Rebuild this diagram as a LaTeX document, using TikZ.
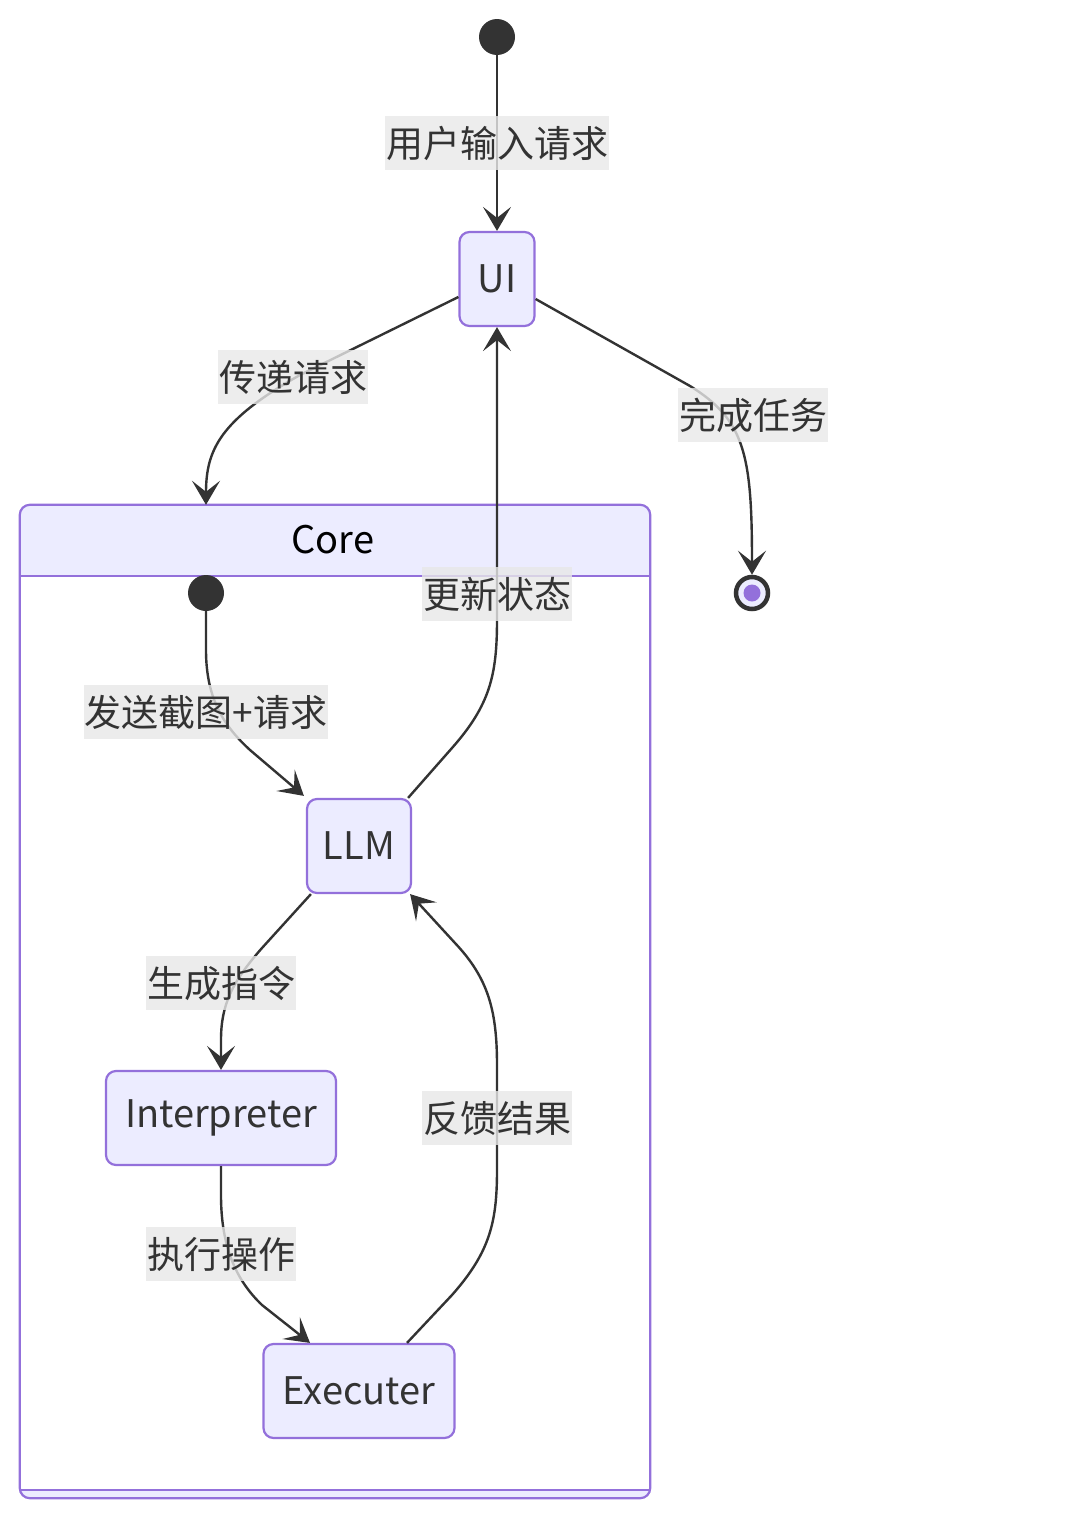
\documentclass[tikz,border=0pt]{standalone}
\usepackage{fontspec}
\setmainfont{Noto Sans CJK SC}
\usetikzlibrary{arrows.meta,positioning,calc}
\definecolor{ink}{RGB}{51,51,51}
\definecolor{lilac}{RGB}{147,112,219}
\definecolor{statebg}{RGB}{236,236,255}
\definecolor{lblbg}{RGB}{232,232,232}

\begin{document}
\begin{tikzpicture}[x=1pt,y=-1pt,
  font=\fontsize{38}{44}\selectfont,
  st/.style={draw=lilac,fill=statebg,rounded corners=10pt,line width=2.2pt,
             minimum height=94pt,inner xsep=17pt,text=ink},
  dot/.style={circle,fill=ink,minimum size=36pt,inner sep=0pt},
  lbl/.style={font=\fontsize{37}{44}\selectfont,fill=lblbg,fill opacity=0.8,
              text opacity=1,text=ink,inner xsep=1pt,inner ysep=0pt,minimum height=54pt},
  tr/.style={draw=ink,line width=2.4pt,
             -{Stealth[length=24pt,width=28pt,inset=11pt]}}]

\useasboundingbox (0,0) rectangle (1080,1539);

% composite state
\node[minimum width=630pt,minimum height=993pt,inner sep=0pt] (core) at (335,1001.5) {};
\coordinate (hl) at (20,576);
\coordinate (hr) at (650,576);
\coordinate (bl) at (20,1490);
\coordinate (br) at (650,1490);
\begin{scope}
  \clip[rounded corners=10pt] (core.north west) rectangle (core.south east);
  \fill[white] (core.north west) rectangle (core.south east);
  \fill[statebg] (core.north west) rectangle (hr);
  \fill[statebg] (bl) rectangle (core.south east);
\end{scope}
\draw[lilac,line width=2.2pt,rounded corners=10pt] (core.north west) rectangle (core.south east);
\draw[lilac,line width=2.2pt] (hl) -- (hr) (bl) -- (br);
\node[text=black] (coret) at (333,540) {Core};

% states
\node[dot] (s0) at (497,37) {};
\node[st,minimum width=75pt,inner xsep=0pt] (ui) at (497,279) {UI};
\node[circle,draw=ink,line width=4.5pt,fill=statebg,minimum size=32pt,inner sep=0pt] (fin) at (752,593) {};
\node[circle,fill=lilac,minimum size=17pt,inner sep=0pt] (finin) at (fin) {};
\node[dot] (s1) at (206,593) {};
\node[st,minimum width=104pt,inner xsep=0pt] (llm) at (359,846) {LLM};
\node[st,minimum width=230pt,inner xsep=0pt] (intp) at (221,1118) {Interpreter};
\node[st,minimum width=191pt,inner xsep=0pt] (exe) at (359,1391) {Executer};

% transitions
\draw[tr] (s0) -- (ui);
\draw[tr] ($(ui.west)+(0,18)$) -- (300,375) .. controls (220,420) and (206,450) .. (core.north -| s1);
\draw[tr] ($(ui.east)+(0,20)$) -- (690,386) .. controls (745,420) and (752,455) .. (fin.north);
\draw[tr] (s1) -- (206,650) .. controls (206,700) and (225,727) .. (250,750) -- ($(llm.north west)+(-2,-2)$);
\draw[tr] ($(llm.north east)+(-4,0)$) -- (452,748) .. controls (490,705) and (497,675) .. (497,620) -- (ui.south);
\draw[tr] ($(llm.south west)+(5,0)$) -- (262,948) .. controls (232,982) and (221,1005) .. (221,1040) -- (intp.north);
\draw[tr] (intp.south) -- (221,1195) .. controls (221,1250) and (238,1282) .. (262,1305) -- ($(exe.north)+(-49,0)$);
\draw[tr] ($(exe.north)+(48,0)$) -- (452,1295) .. controls (490,1252) and (497,1222) .. (497,1170)
  -- (497,1065) .. controls (497,1010) and (488,978) .. (455,943) -- ($(llm.south east)+(-2,0)$);

% labels
\node[lbl] (l0) at (497,143) {用户输入请求};
\node[lbl] (l1) at (293,377) {传递请求};
\node[lbl] (l2) at (753,415) {完成任务};
\node[lbl] (l3) at (206,712) {发送截图+请求};
\node[lbl] (l4) at (497,594) {更新状态};
\node[lbl] (l5) at (221,983) {生成指令};
\node[lbl] (l6) at (221,1254) {执行操作};
\node[lbl] (l7) at (497,1118) {反馈结果};
\end{tikzpicture}
\end{document}
